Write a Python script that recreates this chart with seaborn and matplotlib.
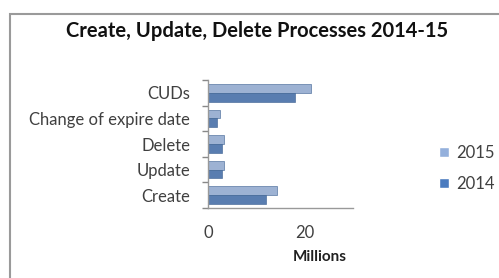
import matplotlib
matplotlib.use('Agg')
import matplotlib.pyplot as plt
from matplotlib.patches import Rectangle
from matplotlib.ticker import FixedLocator
import seaborn as sns
import pandas as pd

# ── Data ───────────────────────────────────────────────────────────────────────
categories = ['CUDs', 'Change of expire date', 'Delete', 'Update', 'Create']
years = ['2015', '2014']
values_2015 = [21.4, 2.4, 3.2, 3.2, 14.3]
values_2014 = [18.0, 1.8, 2.8, 2.8, 12.0]

df = pd.DataFrame({
    'Process': categories * 2,
    'Year': [years[0]] * len(categories) + [years[1]] * len(categories),
    'Millions': values_2015 + values_2014,
})

# ── Style ──────────────────────────────────────────────────────────────────────
sns.set_theme(style='white')
plt.rcParams['font.family'] = ['Lato', 'DejaVu Sans']
COLORS = {'2015': '#94B0DC', '2014': '#4A7BBF'}

fig = plt.figure(figsize=(4.99, 2.78), dpi=100)
fig.patches.append(Rectangle((0.02, -0.1), 1.1, 1.05, transform=fig.transFigure,
                             fill=False, edgecolor='#9a9a9a', linewidth=1.5))
ax = fig.add_axes([0.417, 0.252, 0.29, 0.46])

sns.barplot(data=df, y='Process', x='Millions', hue='Year', order=categories,
            hue_order=years, palette=COLORS, orient='h', width=0.68,
            edgecolor='#3a5f90', linewidth=0.4, ax=ax, legend=False)

ax.set_xlim(0, 30)
ax.set_xticks([0, 20])
ax.set_ylabel('')
ax.set_xlabel('Millions', fontsize=11, fontweight='bold', color='#202020')
ax.xaxis.set_label_coords(0.77, -0.33)
ax.tick_params(axis='y', length=0, labelsize=12, labelcolor='#404040', pad=13)
ax.tick_params(axis='x', length=3, labelsize=12, labelcolor='#404040',
               color='#888888', direction='in', pad=12)
ax.yaxis.set_minor_locator(FixedLocator([i - 0.5 for i in range(len(categories) + 1)]))
ax.tick_params(axis='y', which='minor', length=4, color='#888888', left=True)
for side in ['top', 'right']:
    ax.spines[side].set_visible(False)
for side in ['left', 'bottom']:
    ax.spines[side].set_color('#999999')
    ax.spines[side].set_linewidth(1.0)

fig.text(0.515, 0.89, 'Create, Update, Delete Processes 2014-15', ha='center',
         va='center', fontsize=14.5, fontweight='bold', color='#111111')

handles = [Rectangle((0, 0), 1, 1, facecolor=COLORS[y]) for y in years]
fig.legend(handles, years, loc='center left', bbox_to_anchor=(0.85, 0.395),
           frameon=False, fontsize=12, handlelength=0.6, handleheight=0.6,
           labelspacing=0.9, handletextpad=0.4, labelcolor='#404040')

plt.savefig('out.png', dpi=100)
plt.close()
